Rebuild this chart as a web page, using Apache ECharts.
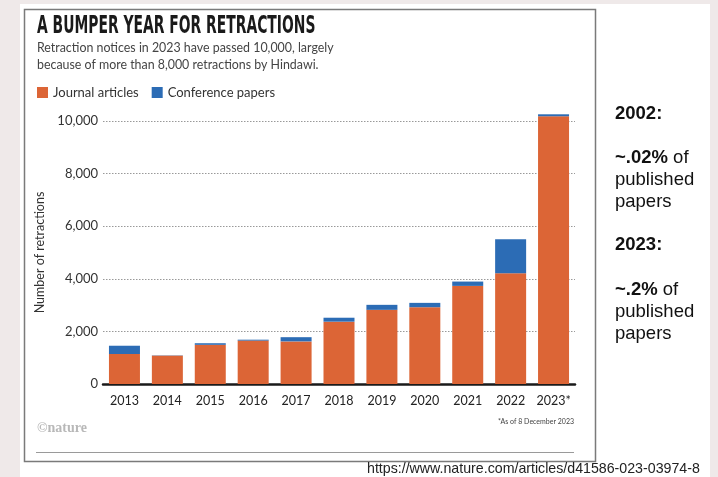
<!DOCTYPE html>
<html><head><meta charset="utf-8">
<script src="https://cdn.jsdelivr.net/npm/echarts@6/dist/echarts.min.js"></script>
<style>html,body{margin:0;padding:0;background:#efe9e9;}#c{width:718px;height:477px;}</style>
</head><body><div id="c"></div>
<script>
const categories = ['2013','2014','2015','2016','2017','2018','2019','2020','2021','2022','2023*'];
const journalArticles = [1140, 1080, 1490, 1650, 1620, 2370, 2820, 2920, 3730, 4215, 10180];
const conferencePapers = [315, 10, 60, 35, 160, 150, 190, 165, 165, 1290, 75];
const yTicks = [0, 2000, 4000, 6000, 8000, 10000];

const chart = echarts.init(document.getElementById('c'), null, {renderer:'canvas'});
const SANS = "Lato, 'Noto Sans', sans-serif";
const ARIAL = "'Liberation Sans', Arial, sans-serif";
const side = (t, y) => ({type:'text', left:615, top:y, style:{text:t, rich:{
  b:{font:"bold 18.5px "+ARIAL, fill:'#111'}, n:{font:"18.5px "+ARIAL, fill:'#111'} }}});
chart.setOption({
  backgroundColor: '#efe9e9',
  animation: false,
  graphic: [
    {type:'rect', shape:{x:20,y:4,width:690,height:480}, style:{fill:'#ffffff'}, z:-10},
    {type:'rect', shape:{x:24.5,y:9.5,width:571,height:452}, style:{fill:'none', stroke:'#7a7a7a', lineWidth:1.5}, z:-9},
    {type:'line', shape:{x1:36,y1:452.5,x2:574,y2:452.5}, style:{stroke:'#9a9a9a', lineWidth:1}},
    {type:'text', x:37, y:14, scaleX:0.63, style:{text:'A BUMPER YEAR FOR RETRACTIONS', font:"bold 24.5px 'DejaVu Sans Condensed','DejaVu Sans',sans-serif", fill:'#1a1a1a'}},
    {type:'text', left:37, top:40, style:{text:'Retraction notices in 2023 have passed 10,000, largely\nbecause of more than 8,000 retractions by Hindawi.', font:"12.4px "+SANS, fill:'#444', lineHeight:16.5}},
    {type:'text', left:37, top:421, style:{text:'©nature', font:"bold 14px 'Liberation Serif', serif", fill:'#b8b8b8'}},
    {type:'text', right:144, top:418, style:{text:'*As of 8 December 2023', font:"7px "+SANS, fill:'#444'}},
    {type:'text', left:367, top:462, style:{text:'https://www.nature.com/articles/d41586-023-03974-8', font:"14.2px "+ARIAL, fill:'#222'}},
    side('{b|2002:}', 104),
    side('{b|~.02%}{n| of}', 148),
    side('{n|published}', 170),
    side('{n|papers}', 192),
    side('{b|2023:}', 235),
    side('{b|~.2%}{n| of}', 280),
    side('{n|published}', 302),
    side('{n|papers}', 324)
  ],
  legend: {
    left: 37, top: 86, padding: 0, itemWidth: 11, itemHeight: 11, itemGap: 13, icon: 'rect',
    textStyle: {fontFamily: SANS, fontSize: 13, color: '#333'},
    data: ['Journal articles', 'Conference papers']
  },
  grid: {left: 103, right: 143, top: 121, bottom: 93, containLabel: false},
  xAxis: {
    type: 'category', data: categories,
    axisLine: {lineStyle: {color: '#1a1a1a', width: 2.5}},
    axisTick: {alignWithLabel: true, length: 4, lineStyle: {color: '#aaa'}},
    axisLabel: {fontFamily: SANS, fontSize: 12.5, color: '#222', margin: 10, interval: 0}
  },
  yAxis: {
    type: 'value', min: 0, max: 10000, interval: 2000,
    name: 'Number of retractions', nameLocation: 'middle', nameGap: 53, nameRotate: 90,
    nameTextStyle: {fontFamily: SANS, fontSize: 12.5, color: '#333'},
    axisLabel: {fontFamily: SANS, fontSize: 13, color: '#333', margin: 5,
      formatter: v => yTicks.includes(v) ? v.toLocaleString('en-US') : ''},
    axisLine: {show: false}, axisTick: {show: false},
    splitLine: {lineStyle: {type: [1.5, 1.5], color: '#999', width: 1}}
  },
  series: [
    {name:'Journal articles', type:'bar', stack:'t', data: journalArticles, barWidth: 31, clip:false,
      itemStyle:{color:'#dc6536'}},
    {name:'Conference papers', type:'bar', stack:'t', data: conferencePapers, barWidth: 31, clip:false,
      itemStyle:{color:'#2c6cb5'}}
  ]
});
</script></body></html>
